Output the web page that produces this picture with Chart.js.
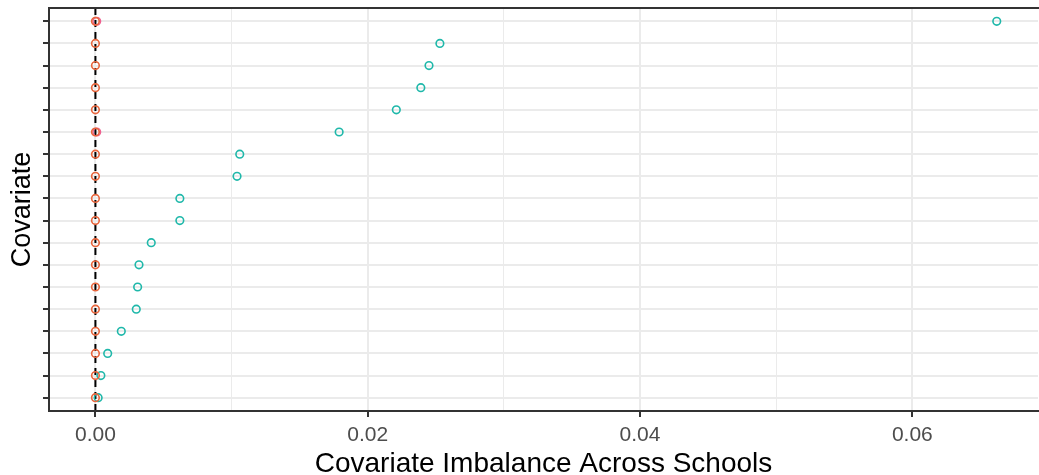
<!DOCTYPE html>
<html>
<head>
<meta charset="utf-8">
<script src="https://cdn.jsdelivr.net/npm/chart.js@4"></script>
<style>
  html, body { margin: 0; padding: 0; background: #fff; }
  #wrap { width: 1039px; height: 475px; }
</style>
</head>
<body>
<div id="wrap"><canvas id="myChart" width="1039" height="475"></canvas></div>
<script>
// rows from top (1) to bottom (18)
var rows = [1, 2, 3, 4, 5, 6, 7, 8, 9, 10, 11, 12, 13, 14, 15, 16, 17, 18];
var unadjusted = [0.0662, 0.0253, 0.0245, 0.0239, 0.0221, 0.0179, 0.0106, 0.0104, 0.0062, 0.0062,
                  0.0041, 0.0032, 0.0031, 0.0030, 0.0019, 0.0009, 0.0004, 0.0002];
var adjusted = [0, 0, 0, 0, 0, 0, 0, 0, 0, 0, 0, 0, 0, 0, 0, 0, 0, 0];
var adjustedAlt = [0.0001, null, null, null, null, 0.0001, null, null, null, null,
                   null, null, null, null, null, null, null, null];
var xTicks = [0, 0.01, 0.02, 0.03, 0.04, 0.05, 0.06];

function toPoints(vals) {
  var pts = [];
  vals.forEach(function (v, i) {
    if (v !== null) pts.push({ x: v, y: rows[i] });
  });
  return pts;
}

var panelBorder = {
  id: "panelBorder",
  afterDraw: function (chart) {
    var a = chart.chartArea, c = chart.ctx;
    c.save();
    c.strokeStyle = "#333333";
    c.lineWidth = 2;
    c.strokeRect(a.left, a.top, a.right - a.left + 10, a.bottom - a.top);
    c.restore();
  }
};

var ctx = document.getElementById("myChart").getContext("2d");
var chart = new Chart(ctx, {
  type: "scatter",
  data: {
    datasets: [
      {
        type: "line",
        data: [{ x: 0, y: 0.4 }, { x: 0, y: 18.6 }],
        borderColor: "#000000",
        borderWidth: 2,
        borderDash: [7, 5],
        pointRadius: 0,
        order: 3
      },
      {
        data: toPoints(unadjusted),
        borderColor: "#1FB8AA",
        backgroundColor: "rgba(0,0,0,0)",
        borderWidth: 1.6,
        pointRadius: 3.8,
        order: 2
      },
      {
        data: toPoints(adjustedAlt),
        borderColor: "#F06090",
        backgroundColor: "rgba(0,0,0,0)",
        borderWidth: 1.4,
        pointRadius: 3.8,
        order: 1
      },
      {
        data: toPoints(adjusted),
        borderColor: "#E8653C",
        backgroundColor: "rgba(0,0,0,0)",
        borderWidth: 1.6,
        pointRadius: 3.8,
        order: 0
      }
    ]
  },
  options: {
    responsive: false,
    animation: false,
    layout: { autoPadding: false, padding: { left: 0, right: 1, top: 8, bottom: 0 } },
    plugins: { legend: { display: false }, tooltip: { enabled: false } },
    scales: {
      x: {
        type: "linear",
        min: -0.00341,
        max: 0.06923,
        afterBuildTicks: function (scale) {
          scale.ticks = xTicks.map(function (v) { return { value: v }; });
        },
        ticks: {
          autoSkip: false,
          maxRotation: 0,
          color: "#4D4D4D",
          font: { family: "Liberation Sans", size: 21 },
          padding: 6,
          callback: function (v) {
            var i = Math.round(v * 100);
            return i % 2 === 0 ? v.toFixed(2) : "";
          }
        },
        grid: {
          color: "#EBEBEB",
          lineWidth: function (c) {
            var i = Math.round(c.tick.value * 100);
            return i % 2 === 0 ? 2 : 1;
          },
          tickLength: 6,
          tickColor: function (c) {
            var i = Math.round(c.tick.value * 100);
            return i % 2 === 0 ? "#333333" : "rgba(0,0,0,0)";
          },
          tickWidth: 2
        },
        border: { display: true, color: "#333333", width: 2 },
        title: {
          display: true,
          text: "Covariate Imbalance Across Schools",
          color: "#000000",
          font: { family: "Liberation Sans", size: 28 },
          padding: { top: 0, bottom: -6 }
        },
        afterFit: function (scale) {
          scale.height = 64;
          scale.paddingRight = 0;
          scale.paddingLeft = 0;
        }
      },
      y: {
        type: "linear",
        reverse: true,
        min: 0.4,
        max: 18.6,
        afterBuildTicks: function (scale) {
          scale.ticks = rows.map(function (v) { return { value: v }; });
        },
        ticks: {
          autoSkip: false,
          display: true,
          padding: 0,
          callback: function () { return ""; }
        },
        grid: {
          color: "#EBEBEB",
          lineWidth: 2,
          tickLength: 6,
          tickColor: "#333333",
          tickWidth: 2
        },
        border: { display: true, color: "#333333", width: 2 },
        title: {
          display: true,
          text: "Covariate",
          color: "#000000",
          font: { family: "Liberation Sans", size: 27 },
          padding: { top: 6, bottom: 0 }
        },
        afterFit: function (scale) {
          scale.width = 49;
          scale.paddingTop = 0;
          scale.paddingBottom = 0;
        }
      }
    }
  },
  plugins: [panelBorder]
});
</script>
</body>
</html>
